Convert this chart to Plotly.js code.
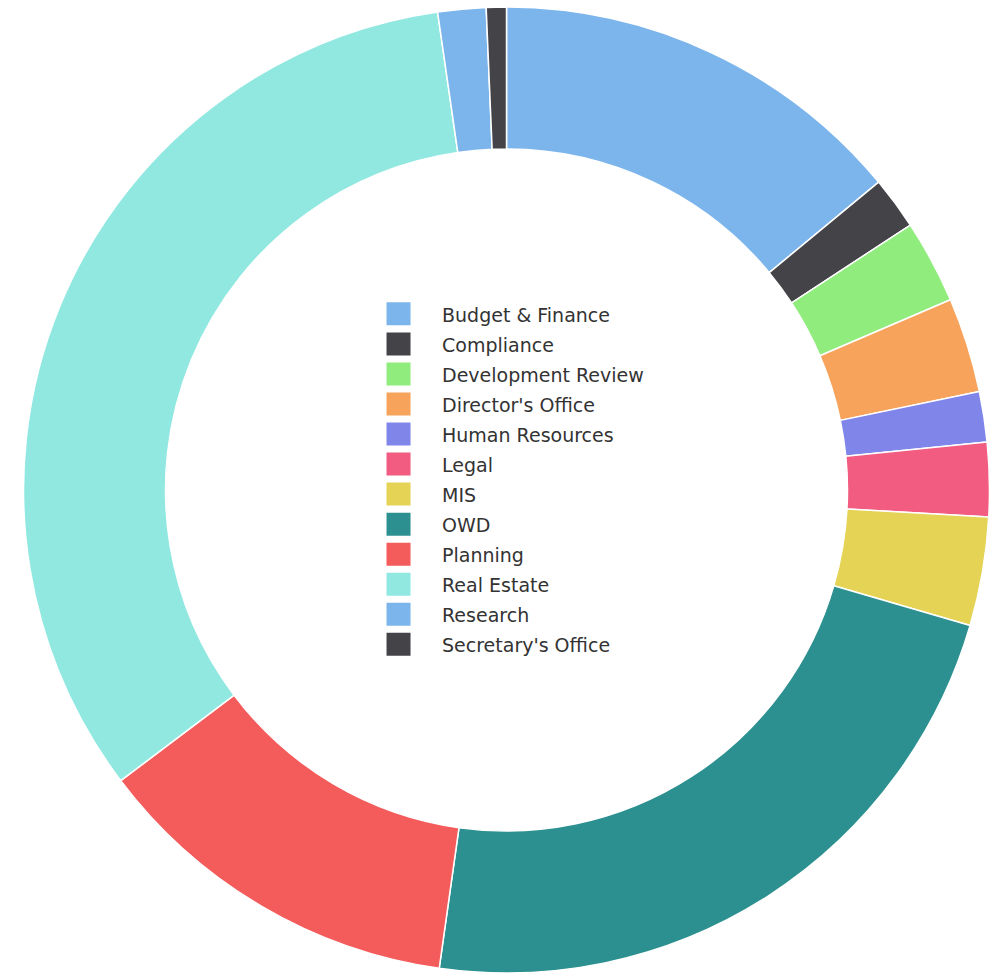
<!DOCTYPE html>
<html>
<head>
<meta charset="utf-8">
<script src="https://cdn.plot.ly/plotly-3.0.1.min.js"></script>
<style>
html,body{margin:0;padding:0;background:#fff;}
#chart{width:993px;height:973px;}
</style>
</head>
<body>
<div id="chart"></div>
<script>
// Departments (slice order, clockwise from 12 o'clock)
const departments = [
  "Budget & Finance", "Compliance", "Development Review", "Director's Office",
  "Human Resources", "Legal", "MIS", "OWD", "Planning", "Real Estate",
  "Research", "Secretary's Office"
];
// Share of total (in percent)
const shares = [14.0, 1.76, 2.8, 3.17, 1.69, 2.47, 3.64, 22.7, 12.5, 33.0, 1.61, 0.67];
// Slice colours
const sliceColors = [
  "#7cb5ec", "#434348", "#90ed7d", "#f7a35c", "#8085e9", "#f15c80",
  "#e4d354", "#2b908f", "#f45b5b", "#91e8e1", "#7cb5ec", "#434348"
];

const legendLabels = departments.map(d => '<span style="font-size:19px">' + d + '</span>');

const trace = {
  type: 'pie',
  labels: legendLabels,
  values: shares,
  sort: false,
  direction: 'clockwise',
  rotation: 0,
  hole: 0.706,
  textinfo: 'none',
  hoverinfo: 'label+percent',
  marker: { colors: sliceColors, line: { color: '#ffffff', width: 1.5 } },
  domain: { x: [0.02367, 0.99648], y: [0, 0.99281] }
};

const layout = {
  width: 993,
  height: 973,
  margin: { l: 0, r: 0, t: 0, b: 0, pad: 0 },
  paper_bgcolor: '#ffffff',
  showlegend: true,
  legend: {
    x: 0.3676,
    xanchor: 'left',
    y: 0.698,
    yanchor: 'top',
    font: { family: '"DejaVu Sans", "Open Sans", sans-serif', size: 20.8, color: '#333333' },
    itemwidth: 67,
    bgcolor: 'rgba(0,0,0,0)',
    borderwidth: 0
  },
  font: { family: '"DejaVu Sans", "Open Sans", sans-serif', color: '#333333' }
};

Plotly.newPlot('chart', [trace], layout, { displayModeBar: false, staticPlot: true }).then(() => {
  document.querySelectorAll('.legendpie').forEach(p => {
    p.setAttribute('d', 'M7,11.5H-17V-11.5H7Z');
    p.style.strokeWidth = '0';
  });
});
</script>
</body>
</html>
